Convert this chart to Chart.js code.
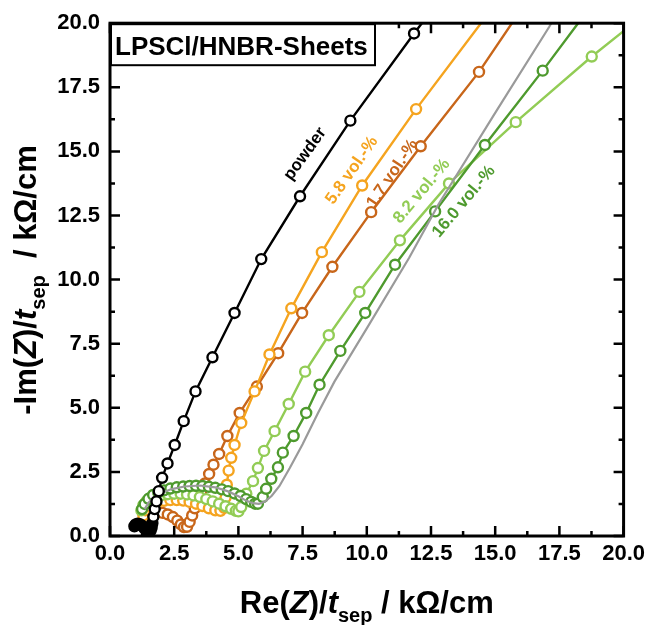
<!DOCTYPE html>
<html>
<head>
<meta charset="utf-8">
<script src="https://cdn.jsdelivr.net/npm/chart.js@4.4.1/dist/chart.umd.min.js"></script>
<style>
  html, body { margin: 0; padding: 0; background: #fff; }
  canvas { display: block; }
</style>
</head>
<body>
<canvas id="nyquist" width="650" height="625"></canvas>
<script>
// ---- data (Re / Im in kOhm/cm) ----
const axisTicks = [0, 2.5, 5, 7.5, 10, 12.5, 15, 17.5, 20];

const powderRe = [0.95,1.0,1.08,1.16,1.25,1.34,1.43,1.52,1.58,1.62,1.65,1.69,1.74,1.81,1.9,2.03,2.24,2.52,2.87,3.33,3.99,4.85,5.89,7.4,9.36,11.84,14.9];
const powderIm = [0.38,0.45,0.48,0.46,0.4,0.3,0.2,0.15,0.2,0.32,0.5,0.75,1.05,1.35,1.75,2.27,2.83,3.55,4.48,5.64,6.97,8.7,10.8,13.25,16.2,19.6,23.6];

const v58Re = [1.3,1.38,1.5,1.65,1.85,2.1,2.35,2.6,2.85,3.1,3.35,3.6,3.85,4.1,4.3,4.45,4.5,4.55,4.62,4.72,4.85,5.11,5.63,6.21,7.06,8.25,9.82,11.92,14.9];
const v58Im = [0.8,1.0,1.15,1.25,1.32,1.37,1.4,1.4,1.38,1.33,1.26,1.17,1.08,1.0,0.98,1.1,1.5,2.0,2.55,3.05,3.55,4.41,5.64,7.08,8.88,11.07,13.67,16.65,20.6];

const v17Re = [1.35,1.48,1.65,1.85,2.05,2.25,2.45,2.62,2.76,2.88,3.0,3.1,3.2,3.3,3.42,3.55,3.7,3.86,4.03,4.25,4.57,5.05,5.72,6.55,7.48,8.66,10.17,12.1,14.37,16.8];
const v17Im = [0.7,0.85,0.92,0.93,0.9,0.84,0.74,0.6,0.45,0.35,0.36,0.55,0.8,1.08,1.38,1.7,2.05,2.42,2.78,3.2,3.9,4.8,5.83,7.13,8.7,10.5,12.63,15.2,18.1,21.7];

const v82Re = [1.22,1.3,1.42,1.6,1.8,2.02,2.25,2.5,2.75,3.0,3.25,3.5,3.75,4.0,4.25,4.5,4.72,4.9,5.0,5.11,5.31,5.57,5.76,6.0,6.41,6.96,7.6,8.52,9.71,11.29,13.2,15.8,18.76,21.5];
const v82Im = [1.0,1.2,1.35,1.47,1.55,1.6,1.63,1.65,1.65,1.62,1.58,1.52,1.44,1.35,1.26,1.16,1.06,0.98,0.96,1.13,1.65,2.14,2.65,3.32,4.09,5.15,6.41,7.83,9.52,11.53,13.75,16.14,18.7,20.9];

const v160Re = [1.25,1.35,1.5,1.68,1.88,2.1,2.35,2.6,2.85,3.1,3.35,3.6,3.85,4.1,4.35,4.6,4.85,5.08,5.3,5.5,5.65,5.76,5.95,6.08,6.28,6.54,6.73,7.15,7.64,8.16,8.97,9.94,11.1,12.66,14.6,16.85,19.2];
const v160Im = [1.05,1.25,1.45,1.6,1.7,1.78,1.85,1.9,1.93,1.95,1.96,1.95,1.92,1.88,1.82,1.75,1.66,1.56,1.44,1.33,1.26,1.26,1.52,1.84,2.23,2.68,3.25,3.9,4.8,5.9,7.22,8.7,10.58,12.66,15.25,18.15,21.3];

const fitRe = [1.35,1.5,1.7,2.0,2.4,2.9,3.5,4.1,4.6,5.0,5.3,5.55,5.8,6.05,6.3,6.6,7.0,7.5,8.1,8.74,10.0,11.65,12.8,15.0,17.1,17.3];
const fitIm = [1.05,1.3,1.5,1.68,1.83,1.93,1.97,1.9,1.74,1.55,1.38,1.28,1.25,1.35,1.57,1.95,2.65,3.58,4.8,6.02,8.1,10.85,12.95,16.5,19.85,20.2];

const FONT = '"Liberation Sans", Arial, sans-serif';
const pts = (re, im) => re.map((v, i) => ({ x: v, y: im[i] }));

function series(re, im, color, fill) {
  return {
    data: pts(re, im), borderColor: color, backgroundColor: '#fff',
    borderWidth: 2.4, pointRadius: 5, pointBorderWidth: 2.4,
    pointBackgroundColor: fill || '#fff',
  };
}

// rotated curve labels (placed in data coords)
const curveLabels = [
  { text: 'powder',      x: 7.6,   y: 14.9,  rot: 54, color: '#000' },
  { text: '5.8 vol.-%',  x: 9.42,  y: 14.26, rot: 55, color: '#F5A41F' },
  { text: '1.7 vol.-%',  x: 11.0,  y: 14.13, rot: 56, color: '#C8661A' },
  { text: '8.2 vol.-%',  x: 12.14, y: 13.45, rot: 50, color: '#92CC55' },
  { text: '16.0 vol.-%', x: 13.78, y: 13.04, rot: 50, color: '#4E9A2E' },
];

function drawRich(ctx, runs, x, y, size) {
  const fontOf = r => `${r.i ? 'italic ' : ''}bold ${r.sub ? Math.round(size * 0.66) : size}px ${FONT}`;
  let w = 0;
  runs.forEach(r => { ctx.font = fontOf(r); w += ctx.measureText(r.t).width; });
  let cx = x - w / 2;
  runs.forEach(r => {
    ctx.font = fontOf(r);
    ctx.fillText(r.t, cx, y + (r.sub ? size * 0.28 : 0));
    cx += ctx.measureText(r.t).width;
  });
}

const decor = {
  id: 'decor',
  afterDraw(chart) {
    const { ctx, chartArea: a, scales: { x, y } } = chart;
    ctx.save();
    ctx.strokeStyle = '#000';
    ctx.fillStyle = '#000';

    // ticks, inward on all four sides, minor halfway
    ctx.lineWidth = 2.5;
    ctx.beginPath();
    for (let k = 0; k <= 16; k++) {
      const v = k * 1.25;
      const L = k % 2 === 0 ? 10 : 5;
      const px = x.getPixelForValue(v), py = y.getPixelForValue(v);
      ctx.moveTo(px, a.bottom); ctx.lineTo(px, a.bottom - L);
      ctx.moveTo(px, a.top);    ctx.lineTo(px, a.top + L);
      ctx.moveTo(a.left, py);   ctx.lineTo(a.left + L, py);
      ctx.moveTo(a.right, py);  ctx.lineTo(a.right - L, py);
    }
    ctx.stroke();

    ctx.lineWidth = 3;
    ctx.strokeRect(a.left, a.top, a.right - a.left, a.bottom - a.top);

    // title box
    ctx.fillStyle = '#fff';
    ctx.fillRect(a.left + 1, a.top + 1, 264, 41);
    ctx.lineWidth = 2;
    ctx.strokeRect(a.left + 1, a.top + 1, 264, 41);
    ctx.fillStyle = '#000';
    ctx.font = `bold 26px ${FONT}`;
    ctx.textAlign = 'left';
    ctx.textBaseline = 'alphabetic';
    ctx.fillText('LPSCl/HNBR-Sheets', a.left + 5, a.top + 32);

    // curve labels
    ctx.font = `bold 17px ${FONT}`;
    ctx.textAlign = 'center';
    ctx.textBaseline = 'middle';
    curveLabels.forEach(l => {
      ctx.save();
      ctx.translate(x.getPixelForValue(l.x), y.getPixelForValue(l.y));
      ctx.rotate(-l.rot * Math.PI / 180);
      ctx.fillStyle = l.color;
      ctx.fillText(l.text, 0, 0);
      ctx.restore();
    });

    // axis titles
    ctx.textAlign = 'left';
    ctx.textBaseline = 'alphabetic';
    ctx.fillStyle = '#000';
    drawRich(ctx, [
      { t: 'Re(' }, { t: 'Z', i: true }, { t: ')/' }, { t: 't', i: true },
      { t: 'sep', sub: true }, { t: ' / k\u03A9/cm' },
    ], (a.left + a.right) / 2, 613, 31);

    ctx.save();
    ctx.translate(36, 280);
    ctx.rotate(-Math.PI / 2);
    drawRich(ctx, [
      { t: '-Im(' }, { t: 'Z', i: true }, { t: ')/' }, { t: 't', i: true },
      { t: 'sep', sub: true }, { t: '  / k\u03A9/cm' },
    ], 0, 0, 31);
    ctx.restore();

    ctx.restore();
  }
};

const tickFont = { family: FONT, size: 22, weight: 'bold' };

new Chart(document.getElementById('nyquist'), {
  type: 'line',
  data: {
    datasets: [
      series(powderRe, powderIm, '#000', c => (c.dataIndex < 11 ? '#000' : '#fff')),
      { data: pts(fitRe, fitIm), borderColor: '#9a9a9a', borderWidth: 2.2, pointRadius: 0 },
      series(v160Re, v160Im, '#4E9A2E'),
      series(v82Re, v82Im, '#92CC55'),
      series(v58Re, v58Im, '#F5A41F'),
      series(v17Re, v17Im, '#C8661A'),
    ]
  },
  options: {
    responsive: false,
    animation: false,
    devicePixelRatio: 1,
    layout: { padding: { top: 18, right: 25, left: 0, bottom: 0 } },
    plugins: { legend: { display: false }, tooltip: { enabled: false } },
    elements: { line: { tension: 0 } },
    scales: {
      x: {
        type: 'linear', min: 0, max: 20,
        afterBuildTicks: s => { s.ticks = axisTicks.map(v => ({ value: v })); },
        ticks: { callback: v => v.toFixed(1), font: tickFont, color: '#000', padding: 5, maxRotation: 0, autoSkip: false },
        grid: { display: false, drawTicks: false },
        border: { display: false },
        afterFit: s => { s.height = 89; }
      },
      y: {
        type: 'linear', min: 0, max: 20,
        afterBuildTicks: s => { s.ticks = axisTicks.map(v => ({ value: v })); },
        ticks: { callback: v => v.toFixed(1), font: tickFont, color: '#000', padding: 10, autoSkip: false },
        grid: { display: false, drawTicks: false },
        border: { display: false },
        afterFit: s => { s.width = 110; }
      }
    }
  },
  plugins: [decor]
});
</script>
</body>
</html>
